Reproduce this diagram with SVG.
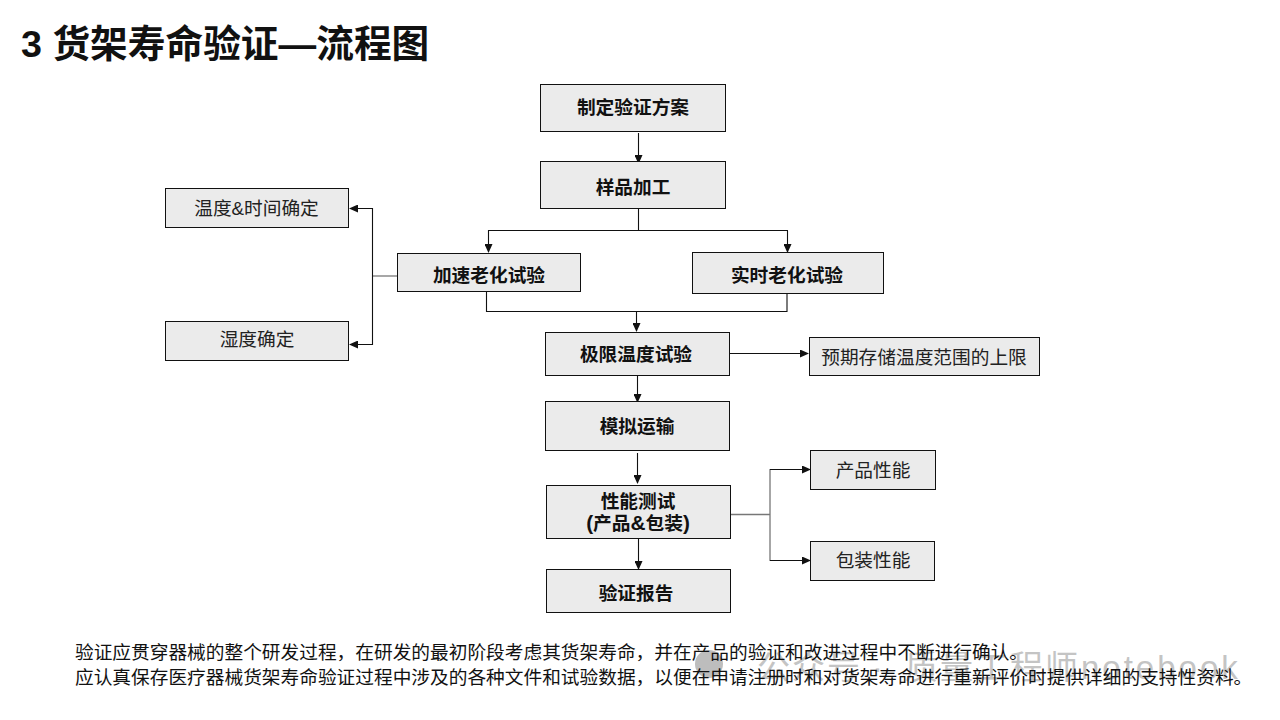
<svg xmlns="http://www.w3.org/2000/svg" width="1280" height="720" viewBox="0 0 1280 720">
<style>
text{font-family:"Liberation Sans","Noto Sans CJK SC",sans-serif;text-anchor:middle;fill:#111}
.box{fill:#ebebeb;stroke:#111;stroke-width:1}
.b{font-size:18.7px;font-weight:700}
.l{font-size:20.8px}
.r{font-size:18.7px;fill:#222}
.c{fill:none;stroke:#111;stroke-width:1.1}
.g{fill:none;stroke:#777;stroke-width:1.3}
.n{font-size:18.7px;text-anchor:start;fill:#111}
.w{font-size:33px;text-anchor:start;fill:#c4c4c4}
</style>
<defs><marker id="a" markerWidth="9" markerHeight="8" refX="8" refY="4" orient="auto" markerUnits="userSpaceOnUse"><path d="M0 0L9 4L0 8z" fill="#111"/></marker></defs>
<rect width="1280" height="720" fill="#fff"/>
<text x="21" y="57" font-size="37.700" font-weight="700" fill="#000" style="text-anchor:start">3 货架寿命验证—流程图</text>
<g id="watermark">
<circle cx="709" cy="664" r="14" fill="#bdbdbd"/>
<text class="w" x="757 792 827 872 905 940 975 1010 1045" y="679">公众号·质量工程师</text>
<text class="w" x="1081" y="679" letter-spacing="3">notebook</text>
</g>
<g id="connectors">
<path class="c" marker-end="url(#a)" d="M638.500 133V163"/>
<path class="c" d="M638.500 209V230.500"/>
<path class="c" marker-end="url(#a)" d="M788 230.500H488.500V252"/>
<path class="c" marker-end="url(#a)" d="M787.500 230.500V252"/>
<path class="g" d="M397 276H372.500"/>
<path class="c" marker-end="url(#a)" d="M372.500 276V208.500H350"/>
<path class="c" marker-end="url(#a)" d="M372.500 276V344.500H350"/>
<path class="c" d="M486.500 292V311.500H787V294"/>
<path class="c" marker-end="url(#a)" d="M636.500 311.500V331"/>
<path class="c" marker-end="url(#a)" d="M730 353.500H808"/>
<path class="c" marker-end="url(#a)" d="M637.500 376V402"/>
<path class="c" marker-end="url(#a)" d="M637.500 453V483"/>
<path class="g" d="M731 514.500H770M770 469V561"/>
<path class="c" marker-end="url(#a)" d="M770 469.500H810"/>
<path class="c" marker-end="url(#a)" d="M770 560.500H810"/>
<path class="c" marker-end="url(#a)" d="M638.500 539V569"/>
</g>
<g id="n1"><rect class="box" x="540.500" y="84.500" width="185" height="47"/><text class="b" x="633" y="114">制定验证方案</text></g>
<g id="n2"><rect class="box" x="540.500" y="161.500" width="185" height="47"/><text class="b" x="633" y="194">样品加工</text></g>
<g id="n3"><rect class="box" x="397.500" y="253.500" width="183" height="38"/><text class="b" x="489" y="282">加速老化试验</text></g>
<g id="n4"><rect class="box" x="692.500" y="252.500" width="191" height="41"/><text class="b" x="787" y="282">实时老化试验</text></g>
<g id="n5"><rect class="box" x="165.500" y="188.500" width="183" height="39"/><text class="r" x="256.500" y="215">温度&amp;时间确定</text></g>
<g id="n6"><rect class="box" x="165.500" y="321.500" width="183" height="39"/><text class="r" x="257" y="346">湿度确定</text></g>
<g id="n7"><rect class="box" x="545.500" y="332.500" width="184" height="43"/><text class="b" x="636" y="361">极限温度试验</text></g>
<g id="n8"><rect class="box" x="809.500" y="337.500" width="230" height="38"/><text class="r" x="924" y="364">预期存储温度范围的上限</text></g>
<g id="n9"><rect class="box" x="545.500" y="401.500" width="184" height="49"/><text class="b" x="637" y="433">模拟运输</text></g>
<g id="n10"><rect class="box" x="546.500" y="485.500" width="184" height="53"/><text class="b" x="638" y="508">性能测试</text><text class="b" x="638" y="530"><tspan class="l">(</tspan>产品<tspan class="l">&amp;</tspan>包装<tspan class="l">)</tspan></text></g>
<g id="n11"><rect class="box" x="546.500" y="569.500" width="184" height="43"/><text class="b" x="636" y="600">验证报告</text></g>
<g id="n12"><rect class="box" x="810.500" y="450.500" width="125" height="39"/><text class="r" x="873" y="477">产品性能</text></g>
<g id="n13"><rect class="box" x="810.500" y="541.500" width="124" height="39"/><text class="r" x="873" y="567">包装性能</text></g>
<text class="n" x="75" y="659">验证应贯穿器械的整个研发过程，在研发的最初阶段考虑其货架寿命，并在产品的验证和改进过程中不断进行确认。</text>
<text class="n" x="75" y="684">应认真保存医疗器械货架寿命验证过程中涉及的各种文件和试验数据，以便在申请注册时和对货架寿命进行重新评价时提供详细的支持性资料。</text>
</svg>
